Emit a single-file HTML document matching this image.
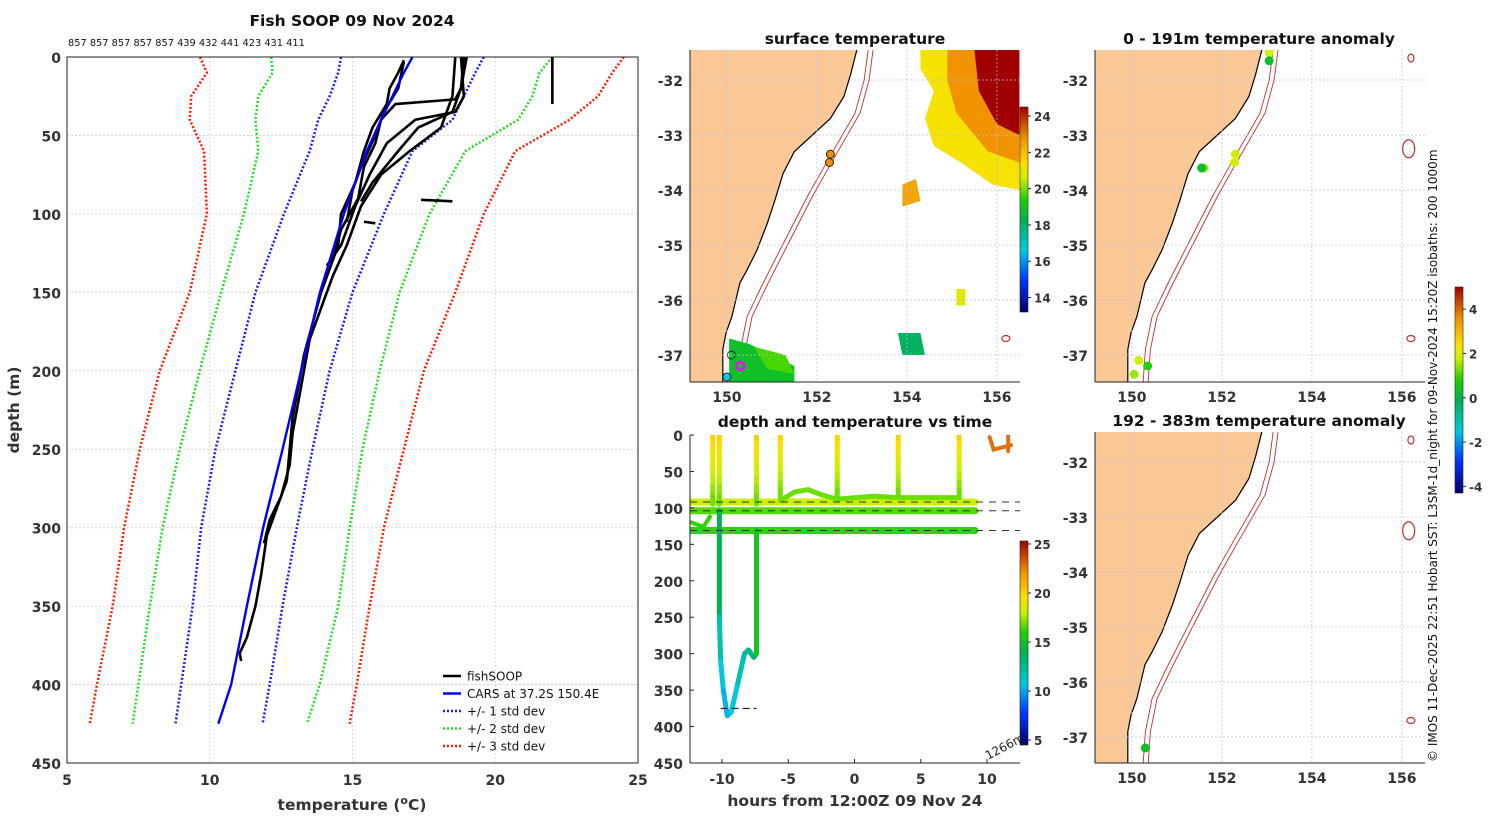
<!DOCTYPE html>
<html><head><meta charset="utf-8"><style>
body{margin:0;background:#fff}
svg{display:block;font-family:"DejaVu Sans","Liberation Sans",sans-serif}
</style></head><body>
<svg id="fig" width="1500" height="820" viewBox="0 0 1500 820" xmlns="http://www.w3.org/2000/svg">
<defs>
<linearGradient id="jet" x1="0" y1="1" x2="0" y2="0">
<stop offset="0" stop-color="#00006a"/><stop offset="0.15" stop-color="#0030ff"/><stop offset="0.3" stop-color="#00c8e0"/><stop offset="0.45" stop-color="#00b050"/><stop offset="0.55" stop-color="#20d000"/><stop offset="0.65" stop-color="#c8f000"/><stop offset="0.72" stop-color="#ffe000"/><stop offset="0.85" stop-color="#f09000"/><stop offset="1" stop-color="#a00000"/>
</linearGradient>
<clipPath id="c2"><rect x="690" y="50" width="330" height="332"/></clipPath>
<clipPath id="c3"><rect x="1095" y="50" width="330" height="332"/></clipPath>
<clipPath id="c5"><rect x="1095" y="432" width="330" height="331"/></clipPath>
<clipPath id="c4"><rect x="690" y="435" width="330" height="328"/></clipPath>
</defs>
<g id="root"></g>
</svg>
<script>
// ---------- Panel 1 data ----------
const depthLevels=[0,10,25,40,60,100,150,200,250,300,350,400,425];
const carsTemp=[17.1,16.8,16.4,16.0,15.5,14.7,13.86,13.2,12.55,11.87,11.3,10.75,10.3];
const std1Left=[14.6,14.5,14.2,13.8,13.5,12.6,11.6,10.9,10.2,9.7,9.4,9.0,8.8];
const std1Right=[19.6,19.3,18.9,18.5,17.1,16.1,15.0,14.2,13.6,13.05,12.55,12.1,11.85];
const std2Left=[12.15,12.2,11.7,11.6,11.7,11.2,10.4,9.65,8.95,8.35,7.9,7.5,7.3];
const std2Right=[22.0,21.55,21.3,20.8,18.95,17.7,16.65,15.95,15.35,14.9,14.5,13.85,13.4];
const std3Left=[9.66,9.9,9.35,9.3,9.8,9.9,9.3,8.25,7.55,7.0,6.6,6.05,5.8];
const std3Right=[24.5,24.1,23.6,22.6,20.7,19.6,18.6,17.5,16.8,16.1,15.6,15.15,14.9];
const fishProfiles=[
 [[2,16.8],[10,16.6],[20,16.3],[30,16.2],[45,15.7],[60,15.4],[80,15.1],[100,14.6],[120,14.5],[150,13.9],[170,13.6],[190,13.3],[210,13.1],[230,12.9],[250,12.8],[270,12.7],[290,12.3],[305,12.0],[330,11.8],[350,11.6],[370,11.3],[380,11.05],[385,11.1]],
 [[0,18.9],[20,18.8],[27,18.6],[30,16.5],[40,16.0],[55,15.8],[70,15.4],[90,15.2],[110,14.6],[130,14.3]],
 [[0,18.8],[25,18.9],[35,18.6],[40,17.2],[55,16.2],[75,15.6],[95,15.1],[120,14.6],[133,14.1]],
 [[0,19.0],[20,18.8],[35,18.5],[45,17.3],[60,16.6],[80,15.7],[92,15.3]],
 [[0,18.6],[25,18.5],[45,18.1],[60,17.0],[75,16.0],[95,15.3],[120,14.8],[140,14.3],[160,13.9],[180,13.5],[200,13.3],[220,13.1],[240,12.9],[260,12.8],[280,12.5],[295,12.1],[310,11.9]],
 [[3,16.8],[20,16.6],[35,16.1],[50,15.8],[70,15.3],[85,15.0],[105,14.8]],
 [[0,22.0],[30,22.0]],
 [[91,17.4],[92,18.5]],
 [[105,15.4],[106,15.8]]
];
const xTicks1=[5,10,15,20,25];
const yTicks1=[0,50,100,150,200,250,300,350,400,450];
const profileCounts=["857","857","857","857","857","439","432","441","423","431","411"];

// ---------- Panel 4 data ----------
const spikeHours=[-10.7,-10.2,-7.4,-5.6,-1.3,3.3,7.9];
const spikeBottom=[95,95,95,85,85,85,85];
const bandDepths=[92,104,131];
const bandTemps=[18,16.5,16];
const deepHours=[-10.2,-10.2,-10.1,-9.9,-9.6,-9.3,-8.8,-8.3,-8.0,-7.6,-7.4,-7.4];
const deepDepths=[104,250,310,350,385,380,340,300,295,305,300,131];
const deepTemps=[16,13.5,11.5,10.5,10,10,10.5,11.5,12,12.5,13,15];
const waveHours=[-5.6,-4.5,-3.5,-2.5,-1.3,0,1.5,3.3,5,7.9];
const waveDepths=[90,78,75,82,88,86,84,86,86,86];
const xTicks4=[-10,-5,0,5,10];
const yTicks4=[0,50,100,150,200,250,300,350,400,450];

// ---------- Map data ----------
const coastLon=[152.89,152.75,152.6,152.3,151.9,151.5,151.25,151.07,150.9,150.67,150.45,150.29,150.11,149.98,149.91,149.91];
const coastLat=[-31.45,-31.9,-32.3,-32.7,-33.0,-33.3,-33.7,-34.18,-34.6,-35.09,-35.45,-35.69,-36.3,-36.6,-36.9,-37.5];
const iso200Lon=[153.14,153.05,152.85,152.25,151.8,151.18,150.8,150.45,150.3,150.25];
const iso200Lat=[-31.45,-32.0,-32.6,-33.45,-34.1,-35.09,-35.7,-36.3,-36.9,-37.5];
const anomLon1=[153.05,153.05,151.6,151.55,152.3,152.28,150.15,150.05,150.35];
const anomLat1=[-31.5,-31.65,-33.6,-33.6,-33.35,-33.5,-37.1,-37.35,-37.2];
const anomVal1=[1.8,0.3,1.5,0.3,1.8,1.9,1.8,1.5,0.8];
const anomLon2=[150.3];
const anomLat2=[-37.2];
const anomVal2=[0.3];
const sstTicks=[14,16,18,20,22,24];
const anomTicks=[-4,-2,0,2,4];
const tempTicks4=[5,10,15,20,25];
const lonTicks=[150,152,154,156];
const latTicks=[-32,-33,-34,-35,-36,-37];

const NS="http://www.w3.org/2000/svg";
const root=document.getElementById('root');
function el(tag,attrs,parent,text){const e=document.createElementNS(NS,tag);for(const k in attrs)e.setAttribute(k,attrs[k]);if(text!==undefined)e.textContent=text;(parent||root).appendChild(e);return e;}
function jet(f){f=Math.max(0,Math.min(1,f));const st=[[0,[0,0,106]],[0.15,[0,48,255]],[0.3,[0,200,224]],[0.45,[0,176,80]],[0.55,[32,208,0]],[0.65,[200,240,0]],[0.72,[255,224,0]],[0.85,[240,144,0]],[1,[160,0,0]]];for(let i=1;i<st.length;i++){if(f<=st[i][0]){const a=st[i-1],b=st[i];const t=(f-a[0])/(b[0]-a[0]);const c=a[1].map((v,j)=>Math.round(v+(b[1][j]-v)*t));return `rgb(${c})`;}}return 'rgb(160,0,0)';}
const FT='font-weight:bold;fill:#333';

// ================= Panel 1 =================
const p1={x0:67,x1:638,y0:57,y1:763};
const tx=t=>p1.x0+(t-5)/20*(p1.x1-p1.x0);
const dy=d=>p1.y0+d/450*(p1.y1-p1.y0);
const g1=el('g',{});


xTicks1.forEach(t=>{const l=el('line',{x1:tx(t),x2:tx(t),y1:p1.y0,y2:p1.y1,stroke:'#c8cde8','stroke-width':0.8,'stroke-dasharray':'2,2'},g1);
 const tk=el('text',{x:tx(t),y:p1.y1+22,'text-anchor':'middle','font-size':14,style:FT},g1,String(t));});
yTicks1.forEach(d=>{const l=el('line',{x1:p1.x0,x2:p1.x1,y1:dy(d),y2:dy(d),stroke:'#e0c8c8','stroke-width':0.8,'stroke-dasharray':'2,2'},g1);
 const tk=el('text',{x:p1.x0-6,y:dy(d)+6,'text-anchor':'end','font-size':14,style:FT},g1,String(d));});
function poly(ts,ds,color,w,dash,name){const pts=ts.map((t,i)=>tx(t)+','+dy(ds[i])).join(' ');const p=el('polyline',{points:pts,fill:'none',stroke:color,'stroke-width':w,'stroke-dasharray':dash||'none','stroke-linejoin':'round'},g1);}
poly(std3Left,depthLevels,'#ff1a00',2.5,'2,2','std3-left-line');
poly(std3Right,depthLevels,'#ff1a00',2.5,'2,2','std3-right-line');
poly(std2Left,depthLevels,'#22dd22',2.5,'2,2','std2-left-line');
poly(std2Right,depthLevels,'#22dd22',2.5,'2,2','std2-right-line');
poly(std1Left,depthLevels,'#1a1aff',2.5,'2,2','std1-left-line');
poly(std1Right,depthLevels,'#1a1aff',2.5,'2,2','std1-right-line');
fishProfiles.forEach(pr=>poly(pr.map(p=>p[1]),pr.map(p=>p[0]),'#000',2.6,null,'fishsoop-profile'));
poly(carsTemp,depthLevels,'#0000ff',2.4,null,'cars-climatology-line');
const ax1=el('rect',{x:p1.x0,y:p1.y0,width:p1.x1-p1.x0,height:p1.y1-p1.y0,fill:'none',stroke:'#222','stroke-width':1},g1);
let t=el('text',{x:352,y:26,'text-anchor':'middle','font-size':15.5,style:'font-weight:bold;fill:#111'},g1,'Fish SOOP 09 Nov 2024');
t=el('text',{x:68,y:46,'font-size':9.8,fill:'#111'},g1,profileCounts.join(' '));
t=el('text',{x:352,y:810,'text-anchor':'middle','font-size':15.5,style:FT},g1);
t.innerHTML='temperature (<tspan dy="-6" font-size="11">o</tspan><tspan dy="6">C)</tspan>';
t=el('text',{x:19,y:410,'text-anchor':'middle','font-size':15.5,transform:'rotate(-90 19 410)',style:FT},g1,'depth (m)');
const legItems=[['fishSOOP','#000',null],['CARS at 37.2S 150.4E','#0000ff',null],['+/- 1 std dev','#1a1aff','2,2'],['+/- 2 std dev','#22dd22','2,2'],['+/- 3 std dev','#ff1a00','2,2']];
const lg=el('g',{},g1);
legItems.forEach((it,i)=>{const y=676+i*17.5;const e=el('g',{},lg);
 el('line',{x1:443,x2:461,y1:y,y2:y,stroke:it[1],'stroke-width':2.5,'stroke-dasharray':it[2]||'none'},e);
 el('text',{x:467,y:y+4.5,'font-size':12,fill:'#111'},e,it[0]);});

// ================= Maps =================
function makeMap(x0,y0,lat0y,name,clip,title,titleX){
 const w=330,h=(name==='anomaly-map-deep')?331:332;
 const px=lon=>x0+(lon-149.18)*45;
 const py=lat=>lat0y+(-32-lat)*55;
 const g=el('g',{});
 const inner=el('g',{'clip-path':`url(#${clip})`},g);
 let d='M'+x0+','+(y0-5);coastLon.forEach((lo,i)=>{d+=' L'+px(lo).toFixed(1)+','+py(coastLat[i]).toFixed(1);});d+=' L'+px(149.9)+','+(y0+h+5)+' L'+x0+','+(y0+h+5)+' Z';
 const land=el('path',{d:d,fill:'#fac896'},inner);
 let cd='';coastLon.forEach((lo,i)=>{cd+=(i?' L':'M')+px(lo).toFixed(1)+','+py(coastLat[i]).toFixed(1);});
 const c=el('path',{d:cd,fill:'none',stroke:'#000','stroke-width':1.2},inner);
 [0,0.11].forEach((off,k)=>{let id='';iso200Lon.forEach((lo,i)=>{id+=(i?' L':'M')+px(lo+off).toFixed(1)+','+py(iso200Lat[i]).toFixed(1);});
  const p=el('path',{d:id,fill:'none',stroke:'#c03030','stroke-width':0.9},inner);});
 [[156.2,-31.6,3,4],[156.15,-33.25,6,9],[156.2,-36.7,4,3]].forEach(s=>{const e=el('ellipse',{cx:px(s[0]),cy:py(s[1]),rx:s[2],ry:s[3],fill:'none',stroke:'#c03030','stroke-width':1.2},inner);});
 lonTicks.forEach(lo=>{const l=el('line',{x1:px(lo),x2:px(lo),y1:y0,y2:y0+h,stroke:'#b8c0e0','stroke-width':0.7,'stroke-dasharray':'2,2'},g);
  const tk=el('text',{x:px(lo),y:y0+h+20,'text-anchor':'middle','font-size':14,style:FT},g,String(lo));});
 latTicks.forEach(la=>{const l=el('line',{x1:x0,x2:x0+w,y1:py(la),y2:py(la),stroke:'#b8c0e0','stroke-width':0.7,'stroke-dasharray':'2,2'},g);
  const tk=el('text',{x:x0-7,y:py(la)+6,'text-anchor':'end','font-size':14,style:FT},g,String(la));});
 el('line',{x1:x0,x2:x0,y1:y0,y2:y0+h,stroke:'#222'},g);el('line',{x1:x0,x2:x0+w,y1:y0+h,y2:y0+h,stroke:'#222'},g);
 const tt=el('text',{x:titleX,y:y0-6,'text-anchor':'middle','font-size':15.5,style:'font-weight:bold;fill:#111'},g,title);
 return {g,inner,px,py};
}
// Panel 2 SST
const m2=makeMap(690,50,80,'sst-map','c2','surface temperature',855);
const sstBlobs=[
 {pts:[[154.3,-31.45],[156.5,-31.45],[156.5,-34.0],[155.9,-33.9],[155.2,-33.5],[154.6,-33.2],[154.4,-32.7],[154.6,-32.2],[154.3,-31.8]],temp:20.8},
 {pts:[[154.9,-31.45],[156.5,-31.45],[156.5,-33.5],[155.8,-33.3],[155.1,-32.6],[154.9,-32.0]],temp:22.3},
 {pts:[[155.5,-31.45],[156.5,-31.45],[156.5,-33.0],[156.0,-32.8],[155.6,-32.2]],temp:24},
 {pts:[[153.9,-33.9],[154.2,-33.8],[154.3,-34.2],[153.9,-34.3]],temp:22},
 {pts:[[150.05,-36.7],[150.5,-36.8],[151.5,-37.2],[151.5,-37.5],[150.05,-37.5]],temp:18.5},
 {pts:[[150.6,-36.85],[151.3,-37.0],[151.5,-37.35],[150.9,-37.25]],temp:19.3},
 {pts:[[153.8,-36.6],[154.3,-36.6],[154.4,-37.0],[153.9,-37.0]],temp:17.8},
 {pts:[[155.1,-35.8],[155.3,-35.8],[155.3,-36.1],[155.1,-36.1]],temp:20.5}
];
sstBlobs.forEach(b=>{const p=el('polygon',{points:b.pts.map(q=>m2.px(q[0])+','+m2.py(q[1])).join(' '),fill:jet((b.temp-13)/11)},m2.inner);});
[[152.3,-33.35,'#f09000'],[152.28,-33.5,'#f09000'],[150.1,-37.0,'none'],[150.3,-37.2,'magenta'],[150.0,-37.4,'#00c8e0']].forEach(s=>{const c=el('circle',{cx:m2.px(s[0]),cy:m2.py(s[1]),r:4,fill:s[2]==='magenta'?'none':s[2],stroke:s[2]==='magenta'?'#ff00ff':'#222','stroke-width':s[2]==='magenta'?2.5:1},m2.inner);});
function colorbar(x,y0,y1,vmin,vmax,ticks,name){
 const g=el('g',{});
 el('rect',{x:x,y:y0,width:8,height:y1-y0,fill:'url(#jet)',stroke:'#222','stroke-width':0.6},g);
 ticks.forEach(v=>{const y=y1-(v-vmin)/(vmax-vmin)*(y1-y0);el('line',{x1:x+8,x2:x+11,y1:y,y2:y,stroke:'#222'},g);
  const tk=el('text',{x:x+14,y:y+5,'font-size':12,style:FT},g,String(v));});
}
colorbar(1020,107,312,13.2,24.5,sstTicks,'sst-colorbar');
// Panel 3 & 5
const m3=makeMap(1095,50,80,'anomaly-map-shallow','c3','0 - 191m temperature anomaly',1259);
anomLon1.forEach((lo,i)=>{const c=el('circle',{cx:m3.px(lo),cy:m3.py(anomLat1[i]),r:4.5,fill:jet((anomVal1[i]+4.3)/9.3)},m3.inner);});
const m5=makeMap(1095,432,462,'anomaly-map-deep','c5','192 - 383m temperature anomaly',1259);
anomLon2.forEach((lo,i)=>{const c=el('circle',{cx:m5.px(lo),cy:m5.py(anomLat2[i]),r:4.5,fill:jet((anomVal2[i]+4.3)/9.3)},m5.inner);});
colorbar(1455,287,493,-4.3,5,anomTicks,'anomaly-colorbar');

// ================= Panel 4 =================
const p4={x0:690,x1:1020,y0:435,y1:763};
const hx=h=>854.5+h*13.25;
const hy=d=>p4.y0+d/450*(p4.y1-p4.y0);
const g4=el('g',{});
const i4=el('g',{'clip-path':'url(#c4)'},g4);
function seg(h1,d1,h2,d2,temp,w,name){const l=el('line',{x1:hx(h1),y1:hy(d1),x2:hx(h2),y2:hy(d2),stroke:jet((temp-4)/21.5),'stroke-width':w,'stroke-linecap':'round'},i4);}
bandDepths.forEach((d,i)=>{seg(-12.4,d,9.1,d,bandTemps[i],7,'depth-band');});
spikeHours.forEach((h,i)=>{const n=8;for(let k=0;k<n;k++){const da=k*spikeBottom[i]/n,db=(k+1)*spikeBottom[i]/n;seg(h,da,h,db,20-k*0.45,5,'surface-spike');}});
for(let i=1;i<waveHours.length;i++)seg(waveHours[i-1],waveDepths[i-1],waveHours[i],waveDepths[i],16.8,5,'wave-track');
for(let i=1;i<deepHours.length;i++)seg(deepHours[i-1],deepDepths[i-1],deepHours[i],deepDepths[i],deepTemps[i],5,'deep-dive-track');
seg(-12.3,120,-11.4,126,16,4,'dive-fragment');seg(-11.4,126,-10.9,112,16,4,'dive-fragment');
[92,104,131].forEach(d=>{const l=el('line',{x1:p4.x0,x2:p4.x1,y1:hy(d),y2:hy(d),stroke:'#333','stroke-width':1,'stroke-dasharray':'7,6'},i4);});
el('line',{x1:hx(-10.1),x2:hx(-7.4),y1:hy(375),y2:hy(375),stroke:'#000','stroke-dasharray':'7,4'},i4);
el('path',{d:`M${hx(10.2)},${hy(3)} L${hx(10.5)},${hy(20)} L${hx(11.8)},${hy(14)} M${hx(11.6)},${hy(0)} L${hx(11.6)},${hy(22)}`,fill:'none',stroke:'#e07010','stroke-width':4,'stroke-linecap':'round'},i4);
xTicks4.forEach(h=>{const tk=el('text',{x:hx(h),y:p4.y1+21,'text-anchor':'middle','font-size':14,style:FT},g4,String(h));el('line',{x1:hx(h),x2:hx(h),y1:p4.y1,y2:p4.y1-4,stroke:'#222'},g4);});
yTicks4.forEach(d=>{const tk=el('text',{x:p4.x0-7,y:hy(d)+6,'text-anchor':'end','font-size':14,style:FT},g4,String(d));el('line',{x1:p4.x0,x2:p4.x0+4,y1:hy(d),y2:hy(d),stroke:'#222'},g4);});
el('line',{x1:p4.x0,x2:p4.x0,y1:p4.y0,y2:p4.y1,stroke:'#222'},g4);el('line',{x1:p4.x0,x2:p4.x1,y1:p4.y1,y2:p4.y1,stroke:'#222'},g4);
t=el('text',{x:855,y:427,'text-anchor':'middle','font-size':15.5,style:'font-weight:bold;fill:#111'},g4,'depth and temperature vs time');
t=el('text',{x:855,y:806,'text-anchor':'middle','font-size':15.5,style:FT},g4,'hours from 12:00Z 09 Nov 24');
t=el('text',{x:988,y:760,'font-size':12,fill:'#222',transform:'rotate(-28 988 760)'},g4,'1266m');
colorbar(1020,541,745,4.5,25.3,tempTicks4,'time-temp-colorbar');

t=el('text',{x:1437,y:762,'font-size':12,fill:'#111',transform:'rotate(-90 1437 762)'},null,'© IMOS 11-Dec-2025 22:51 Hobart SST: L3SM-1d_night for 09-Nov-2024 15:20Z isobaths: 200  1000m');

</script>
</body></html>
